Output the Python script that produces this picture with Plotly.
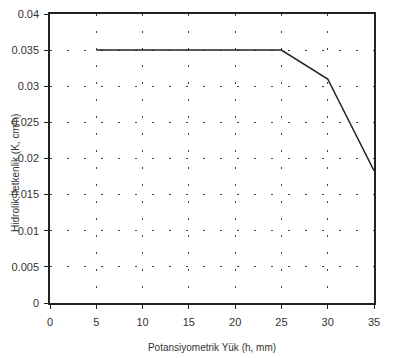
import plotly.graph_objects as go

x_vals = [5, 10, 15, 20, 25, 30, 35]
k_vals = [0.035, 0.035, 0.035, 0.035, 0.035, 0.031, 0.0183]
x_ticks = [0, 5, 10, 15, 20, 25, 30, 35]
y_ticks = [0, 0.005, 0.01, 0.015, 0.02, 0.025, 0.03, 0.035, 0.04]
y_labels = ["0", "0.005", "0.01", "0.015", "0.02", "0.025", "0.03", "0.035", "0.04"]

fig = go.Figure()
fig.add_trace(go.Scatter(x=x_vals, y=k_vals, mode="lines",
                         line=dict(color="#222222", width=1.5), showlegend=False))

axis_common = dict(showline=True, linecolor="#222222", linewidth=1.5, mirror=True,
                   ticks="outside", ticklen=4, tickcolor="#222222", automargin=False,
                   showgrid=True, gridcolor="#444444", gridwidth=1, griddash="2px,15px",
                   zeroline=False, ticklabeloverflow="allow",
                   tickfont=dict(size=11, color="#333333"))

fig.update_xaxes(range=[0, 35], tickvals=x_ticks, ticklabelstandoff=4,
                 title=dict(text="Potansiyometrik Yük (h, mm)", font=dict(size=10, color="#333333"), standoff=17),
                 **axis_common)
fig.update_yaxes(range=[0, 0.04], tickvals=y_ticks, ticktext=y_labels, ticklabelstandoff=3,
                 **axis_common)

fig.add_annotation(text="Hidrolik İletkenlik (K, cm/h)", textangle=-90,
                   xref="paper", yref="paper", x=0, y=0.45, xanchor="center", yanchor="middle",
                   xshift=-35, showarrow=False, font=dict(size=10, color="#333333"))

fig.update_layout(width=405, height=358, margin=dict(l=42, r=39, t=6, b=63),
                  plot_bgcolor="white", paper_bgcolor="white",
                  font=dict(family="Liberation Sans, Arial, sans-serif"))

fig.write_html("out.html")
